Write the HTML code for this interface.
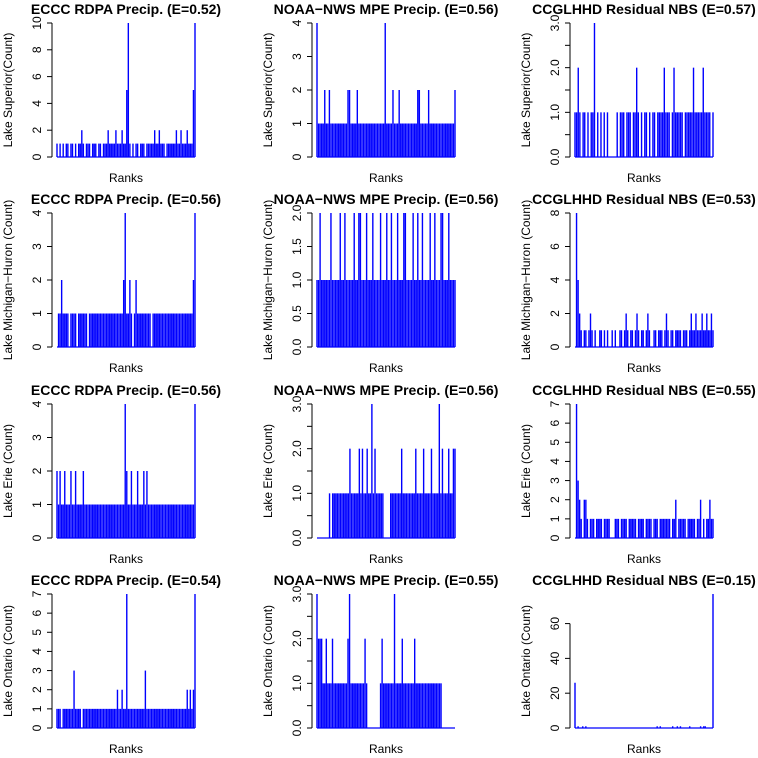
<!DOCTYPE html>
<html><head><meta charset="utf-8"><style>
body{margin:0;background:#fff}
svg text{font-family:"Liberation Sans",Arial,sans-serif;fill:#000}
</style></head><body>
<svg id="c" width="758" height="753" xmlns="http://www.w3.org/2000/svg"></svg>
<script>
const titles=["ECCC RDPA Precip. (E=0.52)","NOAA\u2212NWS MPE Precip. (E=0.56)","CCGLHHD Residual NBS (E=0.57)",
"ECCC RDPA Precip. (E=0.56)","NOAA\u2212NWS MPE Precip. (E=0.56)","CCGLHHD Residual NBS (E=0.53)",
"ECCC RDPA Precip. (E=0.56)","NOAA\u2212NWS MPE Precip. (E=0.56)","CCGLHHD Residual NBS (E=0.55)",
"ECCC RDPA Precip. (E=0.54)","NOAA\u2212NWS MPE Precip. (E=0.55)","CCGLHHD Residual NBS (E=0.15)"];
const ylabels=["Lake Superior(Count)","Lake Michigan\u2212Huron (Count)","Lake Erie (Count)","Lake Ontario (Count)"];
const tickVals=[[0,2,4,6,8,10],[0,1,2,3,4],[0,0.5,1,1.5,2,2.5,3],[0,1,2,3,4],[0,0.5,1,1.5,2],[0,2,4,6,8],[0,1,2,3,4],[0,0.5,1,1.5,2,2.5,3],[0,1,2,3,4,5,6,7],[0,1,2,3,4,5,6,7],[0,0.5,1,1.5,2,2.5,3],[0,20,40,60]];
const tickLabels=[["0","2","4","6","8","10"],["0","1","2","3","4"],["0.0","","1.0","","2.0","","3.0"],["0","1","2","3","4"],["0.0","0.5","1.0","1.5","2.0"],["0","2","4","6","8"],["0","1","2","3","4"],["0.0","","1.0","","2.0","","3.0"],["0","1","2","3","4","5","6","7"],["0","1","2","3","4","5","6","7"],["0.0","","1.0","","2.0","","3.0"],["0","20","40","60"]];
const s1=[1,0,1,0,1,0,1,1,0,1,1,0,1,0,1,1,2,1,0,1,1,1,0,1,1,1,0,1,1,0,1,1,1,2,1,1,1,1,2,1,1,1,2,1,1,5,10,1,0,1,0,1,1,0,1,1,1,0,1,1,1,1,1,2,1,1,2,1,1,1,0,1,1,1,1,1,1,2,1,1,2,1,1,1,2,1,1,1,5,10];
const s2=[4,1,1,1,1,2,1,1,2,1,1,1,1,1,1,1,1,1,1,1,2,2,1,1,1,1,2,1,1,1,1,1,1,1,1,1,1,1,1,1,1,1,1,1,4,1,1,1,1,2,1,1,1,2,1,1,1,1,1,1,1,1,1,1,1,2,2,1,1,1,1,1,2,1,1,1,1,1,1,1,1,1,1,1,1,1,1,1,1,2];
const s3=[1,1,2,1,0,1,1,0,1,0,1,1,3,0,1,0,1,0,1,0,1,0,0,0,0,0,1,0,1,1,1,0,1,1,1,0,1,1,2,1,0,1,0,1,1,0,1,0,1,1,0,1,1,1,1,2,1,1,1,0,1,2,1,1,1,1,1,0,1,1,1,1,1,2,1,1,1,1,1,2,1,1,1,1,0,1];
const s4=[0,1,1,2,1,1,1,1,0,1,1,1,1,0,1,1,1,1,1,1,0,1,1,1,1,1,1,1,1,1,1,1,1,1,1,1,1,1,1,1,1,1,1,2,4,1,1,2,1,0,1,2,1,1,1,1,1,1,1,1,1,0,1,1,1,1,1,1,1,1,1,1,1,1,1,1,1,1,1,1,1,1,1,1,1,1,1,1,2,4];
const s5=[1,1,2,1,1,1,1,1,1,2,1,1,1,1,1,2,1,1,2,1,1,1,1,1,2,1,1,2,2,1,1,1,2,1,1,1,2,1,1,1,1,2,1,1,1,2,1,1,2,1,1,1,2,1,1,1,2,2,1,1,1,1,2,1,1,2,1,1,2,1,1,1,1,2,1,1,2,1,1,1,2,2,1,1,1,2,1,1,1,1];
const s6=[0,8,4,2,1,0,1,1,0,1,2,1,0,1,0,0,1,1,0,1,0,1,0,0,1,0,1,0,0,1,1,0,1,2,1,0,1,1,0,1,2,1,0,1,1,0,1,2,1,0,0,1,1,0,1,1,1,0,1,2,1,0,1,1,0,1,1,1,1,0,1,1,1,0,1,2,1,1,2,1,1,1,2,1,1,2,1,1,2,1];
const s7=[2,1,2,1,1,2,1,1,1,2,1,1,2,1,1,1,1,2,1,1,1,1,1,1,1,1,1,1,1,1,1,1,1,1,1,1,1,1,1,1,1,1,1,1,4,2,1,1,2,1,1,1,2,1,1,1,2,1,2,1,1,1,1,1,1,1,1,1,1,1,1,1,1,1,1,1,1,1,1,1,1,1,1,1,1,1,1,1,1,4];
const s8=[0,0,0,0,0,0,0,0,1,0,1,1,1,1,1,1,1,1,1,1,1,2,1,1,1,1,1,2,1,2,1,1,2,1,1,3,1,2,1,1,1,1,1,0,0,0,0,1,1,1,1,1,1,1,2,1,1,1,1,1,1,1,1,2,1,1,1,1,2,1,1,1,1,2,1,1,1,1,3,1,2,1,1,1,2,1,1,2,2];
const s9=[0,7,3,2,1,0,2,2,1,0,1,1,1,0,1,1,1,1,0,1,1,1,1,0,0,0,1,1,1,0,1,1,1,1,0,1,1,1,1,1,0,1,1,1,1,0,1,1,1,1,0,1,1,1,0,1,1,1,1,1,1,1,0,1,1,2,0,1,1,1,1,1,0,1,1,1,1,1,0,1,1,2,0,1,0,1,1,2,1,1];
const s10=[1,1,1,0,1,1,1,1,1,1,1,3,1,1,1,1,0,1,1,1,1,1,1,1,1,1,1,1,1,1,1,1,1,1,1,1,1,1,1,2,1,1,2,1,1,7,1,1,1,1,1,1,1,1,1,1,1,3,1,1,1,1,1,1,1,1,1,1,1,1,1,1,1,1,1,1,1,1,1,1,1,1,1,1,2,1,2,1,2,7];
const s11=[3,2,2,2,1,1,2,1,1,1,2,1,1,1,1,1,1,1,1,1,2,3,1,1,1,1,1,1,1,1,1,2,1,0,0,0,0,0,0,0,0,1,2,1,1,1,1,1,1,1,3,1,1,1,1,2,1,1,1,1,1,1,1,2,1,1,1,1,1,1,1,1,1,1,1,1,1,1,1,1,1,0,0,0,0,0,0,0,0,0];
const s12=[26,0,1,0,0,1,0,1,0,0,0,0,0,0,0,0,0,0,0,0,0,0,0,0,0,0,0,0,0,0,0,0,0,0,0,0,0,0,0,0,0,0,0,0,0,0,0,0,0,0,0,0,0,1,0,1,0,0,0,0,0,0,0,1,0,0,1,0,1,0,0,0,0,0,1,0,0,0,0,0,0,1,0,1,1,0,0,0,0,77];
const series=[s1,s2,s3,s4,s5,s6,s7,s8,s9,s10,s11,s12];

const NS="http://www.w3.org/2000/svg";
const svg=document.getElementById('c');
function mk(t,a,p){const e=document.createElementNS(NS,t);for(const k in a)e.setAttribute(k,a[k]);(p||svg).appendChild(e);return e;}
const axisXs=[52,312,570], baseYs=[157,347,538,728], H=134, W=138;
for(let p=0;p<12;p++){
  const r=Math.floor(p/3), c=p%3;
  const ax=axisXs[c], y0=baseYs[r], x0=ax+5;
  const ymax=p===11?77:tickVals[p][tickVals[p].length-1];
  const yS=v=>y0-v/ymax*H;
  const xS=(i,n)=>x0+i/(n-1)*W;
  const g=mk('g',{});
  
  
  const tt=mk('text',{x:ax+W/2+5,y:y0-143,'text-anchor':'middle','font-size':'14','font-weight':'bold'},g);
  tt.textContent=titles[p];
  
  
  const xl=mk('text',{x:ax+W/2+5,y:y0+25,'text-anchor':'middle','font-size':'12'},g);
  xl.textContent='Ranks';
  
  
  const yl=mk('text',{transform:`translate(${ax-40},${y0-H/2}) rotate(-90)`,'text-anchor':'middle','font-size':'12'},g);
  yl.textContent=ylabels[r];
  
  
  const tv=tickVals[p];
  const al=mk('line',{x1:ax,x2:ax,y1:yS(tv[0]),y2:yS(tv[tv.length-1]),stroke:'#000','stroke-width':1},g);
  
  
  tv.forEach((v,k)=>{
    const y=yS(v);
    const tk=mk('line',{x1:ax-5,x2:ax,y1:y,y2:y,stroke:'#000','stroke-width':1},g);
    
    
    if(tickLabels[p][k]){
      const tl=mk('text',{transform:`translate(${ax-11},${y}) rotate(-90)`,'text-anchor':'middle','font-size':'12'},g);
      tl.textContent=tickLabels[p][k];
      
      
    }
  });
  const d=series[p], n=d.length;
  const base=mk('line',{x1:x0,x2:x0+W,y1:y0,y2:y0,stroke:'#0000ff','stroke-width':1.3},g);
  
  
  d.forEach((v,i)=>{
    if(v<=0)return;
    const x=xS(i,n);
    const b=mk('line',{x1:x,x2:x,y1:y0,y2:yS(v),stroke:'#0000ff','stroke-width':1.4},g);
    
    
  });
}
</script>
</body></html>
